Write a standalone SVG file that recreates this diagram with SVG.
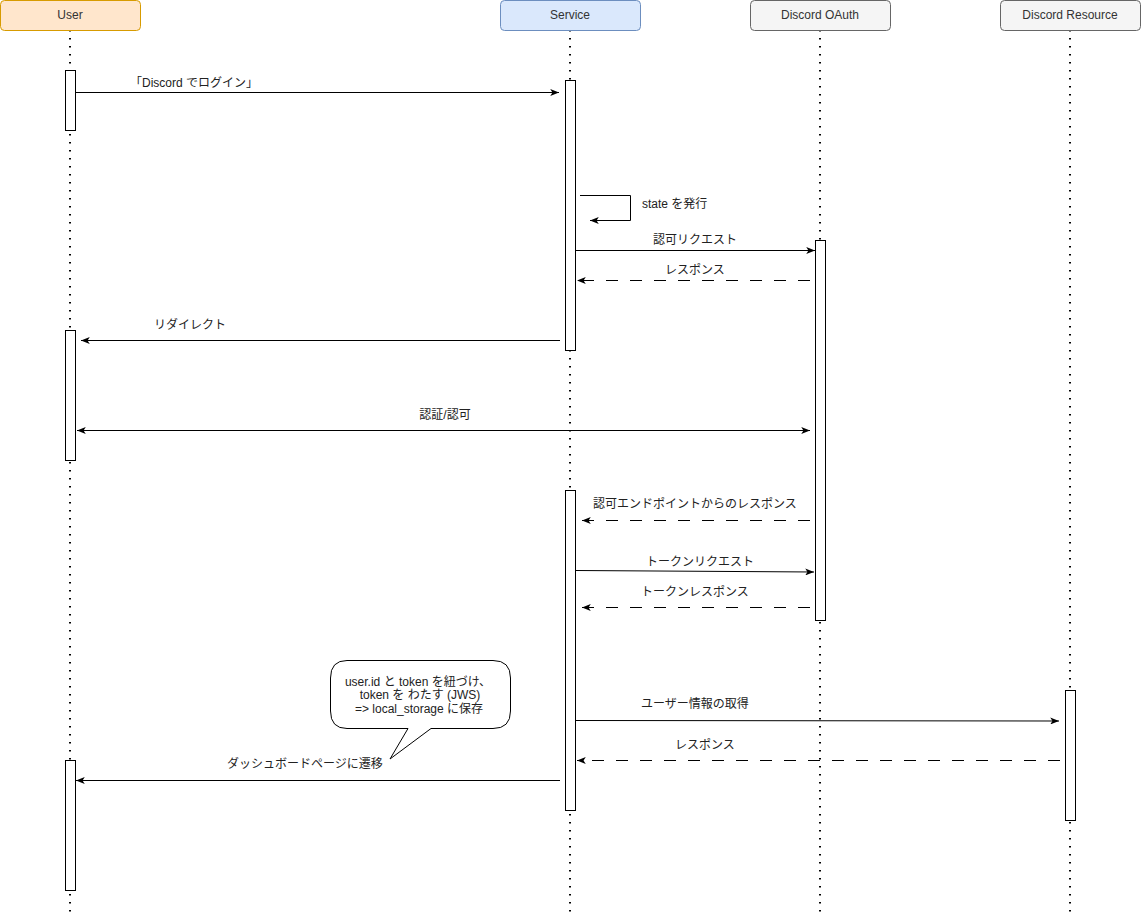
<svg xmlns="http://www.w3.org/2000/svg" width="1141" height="913" viewBox="0 0 1141 913">
<style>
  text { font-family: "Liberation Sans", Arial, "Noto Sans CJK JP", sans-serif; font-size: 12px; fill: #222; }
  .hdr { text-anchor: middle; dominant-baseline: central; fill: #333; }
  .lbl { text-anchor: middle; dominant-baseline: central; }
  .life { stroke: #000; stroke-width: 2; stroke-dasharray: 1.5 6.5; fill: none; }
  .act { fill: #fff; stroke: #000; stroke-width: 1; }
  .msg { stroke: #000; stroke-width: 1; fill: none; marker-end: url(#arr); }
  .dash { stroke-dasharray: 12 12; }
</style>
<defs>
  <marker id="arr" viewBox="0 0 10 8" refX="10" refY="4" markerWidth="9" markerHeight="7" markerUnits="userSpaceOnUse" orient="auto-start-reverse">
    <path d="M0,0 L10,4 L0,8 L2.5,4 Z" fill="#000"/>
  </marker>
</defs>
<rect width="1141" height="913" fill="#fff"/>

<g id="lifelines">
  <line class="life" x1="70" y1="30" x2="70" y2="913"/>
  <line class="life" x1="570" y1="30" x2="570" y2="913"/>
  <line class="life" x1="820" y1="30" x2="820" y2="913"/>
  <line class="life" x1="1070" y1="30" x2="1070" y2="913"/>
</g>

<g id="user">
  <rect x="0.5" y="0.5" width="140" height="30" rx="4" fill="#ffe6cc" stroke="#d79b00"/>
  <text class="hdr" x="70" y="15">User</text>
</g>
<g id="service">
  <rect x="500.5" y="0.5" width="140" height="30" rx="4" fill="#dae8fc" stroke="#6c8ebf"/>
  <text class="hdr" x="570" y="15">Service</text>
</g>
<g id="discord-oauth">
  <rect x="750.5" y="0.5" width="140" height="30" rx="4" fill="#f5f5f5" stroke="#666666"/>
  <text class="hdr" x="820" y="15">Discord OAuth</text>
</g>
<g id="discord-resource">
  <rect x="1000.5" y="0.5" width="140" height="30" rx="4" fill="#f5f5f5" stroke="#666666"/>
  <text class="hdr" x="1070" y="15">Discord Resource</text>
</g>

<g id="activations">
  <rect class="act" x="65.5" y="70.5" width="10" height="60"/>
  <rect class="act" x="565.5" y="80.5" width="10" height="270"/>
  <rect class="act" x="815.5" y="240.5" width="10" height="380"/>
  <rect class="act" x="65.5" y="330.5" width="10" height="130"/>
  <rect class="act" x="565.5" y="490.5" width="10" height="320"/>
  <rect class="act" x="1065.5" y="690.5" width="10" height="130"/>
  <rect class="act" x="65.5" y="760.5" width="10" height="130"/>
</g>

<g id="connectors">
  <line class="msg" x1="76" y1="92.5" x2="559" y2="92.5"/>
  <path class="msg" d="M580,195.5 H630.5 V220.5 H590"/>
  <line class="msg" x1="576" y1="250.5" x2="815" y2="250.5"/>
  <line class="msg dash" x1="810" y1="280.5" x2="577" y2="280.5"/>
  <line class="msg" x1="560" y1="340.5" x2="81" y2="340.5"/>
  <line class="msg" x1="810" y1="430.5" x2="77" y2="430.5" marker-start="url(#arr)"/>
  <line class="msg dash" x1="810" y1="520.5" x2="582" y2="520.5"/>
  <line class="msg" x1="576" y1="570.5" x2="814" y2="572"/>
  <line class="msg dash" x1="810" y1="607.5" x2="582" y2="607.5"/>
  <line class="msg" x1="576" y1="720.5" x2="1059" y2="721"/>
  <line class="msg dash" x1="1060" y1="760.5" x2="577" y2="760.5"/>
  <line class="msg" x1="560" y1="780.5" x2="76" y2="780.5"/>
</g>

<g id="labels">
  <text class="lbl" x="194" y="83">「Discord でログイン」</text>
  <text x="642" y="208">state を発行</text>
  <text class="lbl" x="695" y="240">認可リクエスト</text>
  <text class="lbl" x="695" y="270">レスポンス</text>
  <text class="lbl" x="190" y="325">リダイレクト</text>
  <text class="lbl" x="445" y="415">認証/認可</text>
  <text class="lbl" x="695" y="504">認可エンドポイントからのレスポンス</text>
  <text class="lbl" x="700" y="562">トークンリクエスト</text>
  <text class="lbl" x="695" y="592">トークンレスポンス</text>
  <text class="lbl" x="695" y="704">ユーザー情報の取得</text>
  <text class="lbl" x="705" y="745">レスポンス</text>
  <text class="lbl" x="305" y="764">ダッシュボードページに遷移</text>
</g>

<g id="callout">
  <path d="M347,660.5 H493 Q510.5,660.5 510.5,678 V711 Q510.5,728.5 493,728.5 H431 L390,759 L408,728.5 H347 Q330.5,728.5 330.5,711 V678 Q330.5,660.5 347,660.5 Z" fill="#fff" stroke="#000" stroke-width="1"/>
  <text class="lbl" x="418" y="682">user.id と token を紐づけ、</text>
  <text class="lbl" x="420" y="695">token を わたす (JWS)</text>
  <text class="lbl" x="419" y="709">=&gt; local_storage に保存</text>
</g>
</svg>
